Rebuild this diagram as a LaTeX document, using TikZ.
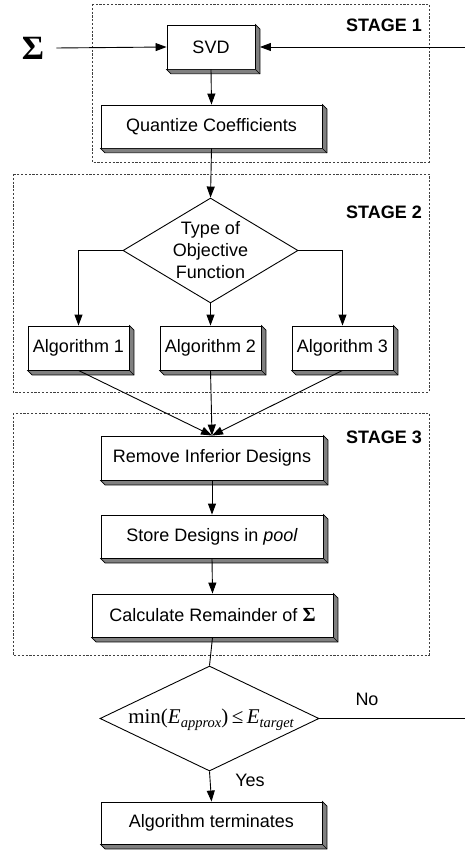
\documentclass[tikz,border=0pt]{standalone}
\usepackage{fontspec}
\setmainfont{Liberation Sans}
\newfontfamily\serifface{Liberation Serif}
\usetikzlibrary{shapes.geometric,arrows.meta,calc}

% lowered italic subscript in the serif face
\newcommand\lowsub[1]{\raisebox{-4pt}{\fontsize{14.5}{14.5}\selectfont\itshape #1}}

\tikzset{
  stepbox/.style={draw, line width=0.9pt, fill=white, inner sep=0pt,
    minimum height=44pt, font=\fontsize{18}{22}\selectfont},
  decision/.style={diamond, draw, line width=0.9pt, fill=white, inner sep=0pt},
  stagebox/.style={draw=black!75, dash pattern=on 2.2pt off 1.6pt, line width=0.7pt},
  stagelabel/.style={anchor=east, inner sep=0pt, font=\fontsize{18}{22}\selectfont\bfseries},
  plain/.style={inner sep=0pt, font=\fontsize{18}{22}\selectfont},
  flow/.style={line width=0.9pt},
  arr/.style={flow, -{Triangle[length=11pt,width=8pt]}},
  sideface/.style={fill=black!50, draw=black, line width=0.6pt},
}

\begin{document}
\begin{tikzpicture}[x=1pt, y=-1pt]
\useasboundingbox (0,0) rectangle (465,850);

% stage frames
\draw[stagebox] (92,4) rectangle (429,162);
\draw[stagebox] (13,174) rectangle (429,392);
\draw[stagebox] (13,413) rectangle (429,655);
\node[stagelabel] (s1) at (422,25) {STAGE 1};
\node[stagelabel] (s2) at (422,212) {STAGE 2};
\node[stagelabel] (s3) at (422,437) {STAGE 3};

% process steps
\node[stepbox, minimum width=88pt] (svd) at (211,47) {SVD};
\node[stepbox, minimum width=221pt, minimum height=43pt] (quant) at (211.5,126.5) {Quantize Coefficients};
\node[decision, minimum width=175pt, minimum height=105pt] (obj) at (210.5,250.5) {};
\node[plain, align=center] (objtxt) at (210.5,250.5) {Type of\\Objective\\Function};
\node[stepbox, minimum width=101pt] (alg1) at (78.5,348) {Algorithm 1};
\node[stepbox, minimum width=101pt] (alg2) at (210.5,348) {Algorithm 2};
\node[stepbox, minimum width=101pt] (alg3) at (342.5,348) {Algorithm 3};
\node[stepbox, minimum width=222pt] (remove) at (212,458) {Remove Inferior Designs};
\node[stepbox, minimum width=222pt, minimum height=43pt] (store) at (212,536.5) {Store Designs in \textit{pool}};
\node[stepbox, minimum width=241pt, minimum height=43pt] (calc) at (212.5,615.5) {Calculate Remainder of {\serifface\fontsize{20}{22}\selectfont\bfseries Σ}};
\node[decision, minimum width=219pt, minimum height=105pt] (test) at (209.5,718.5) {};
\node[inner sep=0pt, font=\serifface\fontsize{21}{22}\selectfont] (testtxt) at (211,720)
  {min(\textit{E}\lowsub{approx})\,≤\,\textit{E}\lowsub{target}};
\node[stepbox, minimum width=221pt, minimum height=42pt] (term) at (211.5,823) {Algorithm terminates};

% extruded side faces of the step boxes
\foreach \n in {svd,quant,alg1,alg2,alg3,remove,store,calc,term}{
  \filldraw[sideface] (\n.north east) -- ++(4.5pt,-4.5pt) -- ($(\n.south east)+(4.5pt,-4.5pt)$)
    -- ($(\n.south west)+(4.5pt,-4.5pt)$) -- (\n.south west) -- (\n.south east) -- cycle;
  \draw[line width=0.6pt] (\n.south east) -- ++(4.5pt,-4.5pt);
}

% input and feedback
\node[inner sep=0pt, font=\serifface\fontsize{34}{34}\selectfont\bfseries] (sigma) at (33,48) {Σ};
\coordinate (fbend) at (465,47);
\coordinate (noend) at (465,718.5);
\draw[arr] (sigma.east) ++(12pt,0) -- (svd.west);
\draw[arr] (fbend) -- ([xshift=4.5pt]svd.east);

% connectors
\draw[arr] (svd.south) -- (quant.north);
\draw[arr] (quant.south) -- (obj.north);
\draw[arr] (obj.west) -| (alg1.north);
\draw[arr] (obj.east) -| (alg3.north);
\draw[arr] (obj.south) -- (alg2.north);
\draw[arr] (alg1.south) -- (remove.north);
\draw[arr] (alg2.south) -- (remove.north);
\draw[arr] (alg3.south) -- (remove.north);
\draw[arr] (remove.south) -- (store.north);
\draw[arr] (store.south) -- (calc.north);
\draw[flow] (calc.south) -- (test.north);
\draw[flow] (test.east) -- (noend);
\draw[arr] (test.south) -- (term.north);

\node[plain] (no) at (367,699) {No};
\node[plain] (yes) at (250,780) {Yes};
\end{tikzpicture}
\end{document}
